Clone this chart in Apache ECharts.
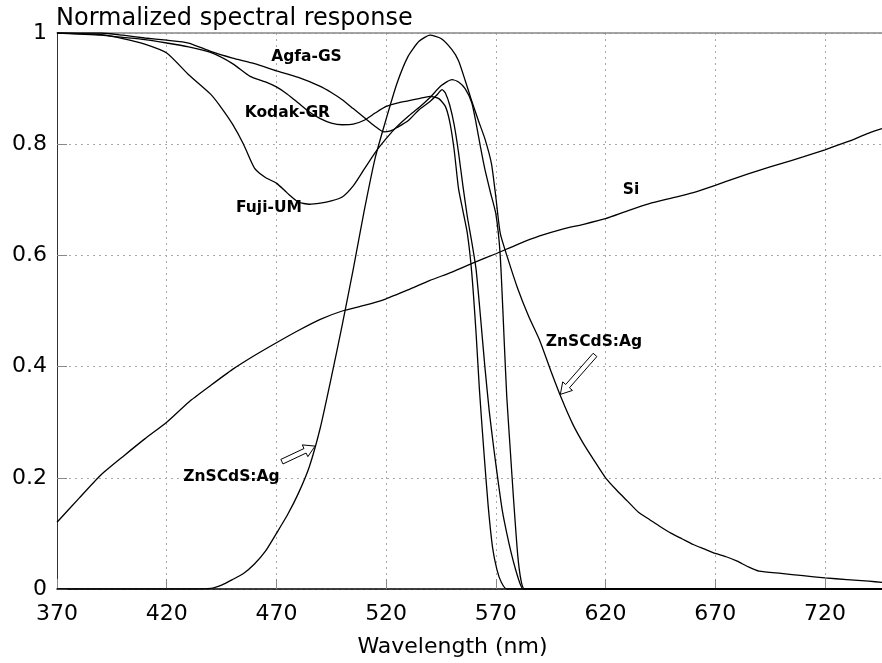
<!DOCTYPE html>
<html>
<head>
<meta charset="utf-8">
<script src="https://cdn.jsdelivr.net/npm/echarts@6/dist/echarts.min.js"></script>
<style>html,body{margin:0;padding:0;background:#fff;}#c{width:882px;height:663px;}</style>
</head>
<body>
<div id="c"></div>
<script>
// ---- data ----
const xTicks = [370, 420, 470, 520, 570, 620, 670, 720];
const yTicks = [0, 0.2, 0.4, 0.6, 0.8, 1];

const siNm  = [370,380,390,400,410,420,430,440,450,460,470,480,490,500,510,520,530,540,550,560,570,580,590,600,610,620,630,640,650,660,670,680,690,700,710,720,730,740,746];
const siVal = [0.12,0.163,0.205,0.238,0.27,0.30,0.336,0.366,0.395,0.42,0.443,0.465,0.485,0.50,0.51,0.522,0.538,0.555,0.57,0.587,0.603,0.62,0.635,0.647,0.656,0.666,0.68,0.693,0.703,0.713,0.726,0.74,0.753,0.765,0.777,0.79,0.804,0.82,0.828];

const znNm  = [370,400,430,440,445,450,455,460,465,470,475,480,485,490,495,500,505,510,515,520,525,530,535,540,545,550,553,556,559,562,565,568,570,572,575,580,585,590,595,600,605,610,615,620,625,630,635,640,645,650,655,660,665,670,675,680,685,690,700,710,720,730,740,746];
const znVal = [0,0,0,0.001,0.007,0.017,0.028,0.045,0.068,0.10,0.133,0.172,0.22,0.29,0.38,0.475,0.575,0.68,0.775,0.845,0.91,0.958,0.985,0.996,0.99,0.97,0.95,0.915,0.878,0.843,0.81,0.765,0.705,0.64,0.60,0.54,0.49,0.447,0.393,0.342,0.297,0.261,0.23,0.20,0.178,0.158,0.138,0.125,0.112,0.10,0.09,0.08,0.072,0.064,0.058,0.05,0.04,0.032,0.028,0.024,0.02,0.017,0.014,0.012];

const fujiNm  = [370,380,390,400,410,420,430,440,445,450,455,460,465,470,475,480,485,490,495,500,505,510,515,520,525,530,535,540,545,550,553,556,559,561,563,565,567.5,570,572,574,575,576.5,578,580,581.5,583,600,746];
const fujiVal = [1.0,0.999,0.997,0.99,0.98,0.964,0.925,0.89,0.865,0.836,0.80,0.757,0.74,0.73,0.712,0.696,0.692,0.694,0.698,0.705,0.725,0.755,0.785,0.81,0.832,0.85,0.866,0.884,0.905,0.916,0.912,0.90,0.875,0.838,0.795,0.755,0.714,0.675,0.60,0.43,0.345,0.255,0.166,0.06,0.015,0,0,0];

const agfaNm  = [370,380,390,400,410,420,430,440,450,460,470,480,490,495,500,505,510,515,519,522,525,530,535,540,543,545.5,547,549,551,553,555,557,559,561,563,565,567,569,571,573,575,577,579,581,582.5,600,746];
const agfaVal = [1.0,1.0,1.0,0.996,0.991,0.987,0.982,0.967,0.955,0.945,0.932,0.92,0.904,0.893,0.88,0.864,0.848,0.832,0.822,0.824,0.83,0.842,0.862,0.877,0.888,0.898,0.892,0.87,0.835,0.785,0.725,0.67,0.625,0.575,0.49,0.40,0.32,0.255,0.195,0.14,0.10,0.065,0.035,0.01,0,0,0];

const kodakNm  = [370,380,390,400,410,420,430,440,450,458,465,470,475,480,485,490,495,500,505,510,515,520,525,530,535,540,544,547,549,551,553,555,557,559,561,562.5,564.5,566.5,568.5,570.5,572.5,575,600,746];
const kodakVal = [1.0,0.998,0.996,0.992,0.988,0.982,0.975,0.965,0.945,0.922,0.912,0.903,0.89,0.874,0.858,0.846,0.838,0.835,0.836,0.843,0.856,0.868,0.874,0.878,0.882,0.886,0.882,0.868,0.84,0.79,0.72,0.68,0.64,0.57,0.46,0.36,0.25,0.15,0.075,0.035,0.012,0,0,0];

// annotation anchors in data units [nm, response]
const labels = [
  {text:'Agfa-GS',   at:[483.7,0.957]},
  {text:'Kodak-GR',  at:[475.0,0.856]},
  {text:'Fuji-UM',   at:[466.6,0.686]},
  {text:'Si',        at:[631.6,0.718]},
  {text:'ZnSCdS:Ag', at:[614.7,0.444]},
  {text:'ZnSCdS:Ag', at:[449.5,0.202]}
];
const arrows = [
  {tail:[615.2,0.421], tip:[599.4,0.35]},
  {tail:[472.5,0.229], tip:[487.6,0.257]}
];

// ---- chart ----
const pairs = (xs, ys) => xs.map((x, i) => [x, ys[i]]);
const lineSeries = (name, xs, ys) => ({
  name, type:'line', data:pairs(xs, ys), showSymbol:false, symbol:'none',
  smooth:0.2,
  lineStyle:{color:'#000', width:1.3}, z:3
});
const grid = {type:[2,4], color:'#aaa', width:1};

const chart = echarts.init(document.getElementById('c'), null, {renderer:'canvas'});
chart.setOption({
  animation:false,
  backgroundColor:'#fff',
  textStyle:{fontFamily:'DejaVu Sans'},
  title:{text:'Normalized spectral response', left:51, top:2,
    textStyle:{fontSize:24, fontWeight:'normal', color:'#000', fontFamily:'DejaVu Sans'}},
  grid:{left:57, right:0, top:33, bottom:70},
  xAxis:[{
    type:'value', min:xTicks[0], max:746, interval:xTicks[1]-xTicks[0],
    name:'Wavelength (nm)', nameLocation:'middle', nameGap:47,
    nameTextStyle:{fontSize:22, color:'#000', fontFamily:'DejaVu Sans', padding:[0,34,0,0]},
    axisLine:{show:true, lineStyle:{color:'#000', width:1.5}},
    axisTick:{show:true, inside:true, length:10, lineStyle:{color:'#888'}},
    axisLabel:{fontSize:22, color:'#000', margin:14, showMaxLabel:false, fontFamily:'DejaVu Sans'},
    splitLine:{show:true, lineStyle:grid}
  },{
    type:'value', position:'top', min:xTicks[0], max:746,
    axisLine:{show:true, lineStyle:{color:'#888', width:1.5}},
    axisTick:{show:false}, axisLabel:{show:false}, splitLine:{show:false}
  }],
  yAxis:{
    type:'value', min:yTicks[0], max:yTicks[yTicks.length-1], interval:yTicks[1]-yTicks[0],
    axisLine:{show:true, lineStyle:{color:'#333', width:1}},
    axisTick:{show:true, inside:true, length:10, lineStyle:{color:'#888'}},
    axisLabel:{fontSize:22, color:'#000', margin:10, fontFamily:'DejaVu Sans'},
    splitLine:{show:true, lineStyle:grid}
  },
  series:[
    lineSeries('Si', siNm, siVal),
    lineSeries('ZnSCdS:Ag', znNm, znVal),
    lineSeries('Fuji-UM', fujiNm, fujiVal),
    lineSeries('Agfa-GS', agfaNm, agfaVal),
    lineSeries('Kodak-GR', kodakNm, kodakVal)
  ]
});

// annotations placed through the axes' scales
const px = p => chart.convertToPixel({gridIndex:0}, p);
const graphics = labels.map(l => {
  const p = px(l.at);
  return {type:'text', x:p[0], y:p[1], z:10,
    style:{text:l.text, fill:'#000', font:'bold 15.5px "DejaVu Sans"', align:'center', verticalAlign:'middle'}};
});
arrows.forEach(a => {
  const t = px(a.tail), h = px(a.tip);
  const dx = h[0]-t[0], dy = h[1]-t[1], L = Math.hypot(dx, dy);
  const ux = dx/L, uy = dy/L, nx = -uy, ny = ux;
  const w = 2.5, hw = 6.5, hl = 11;
  const bx = h[0]-ux*hl, by = h[1]-uy*hl;
  const pts = [
    [t[0]+nx*w, t[1]+ny*w], [bx+nx*w, by+ny*w], [bx+nx*hw, by+ny*hw], [h[0], h[1]],
    [bx-nx*hw, by-ny*hw], [bx-nx*w, by-ny*w], [t[0]-nx*w, t[1]-ny*w]
  ];
  graphics.push({type:'polygon', z:10, shape:{points:pts}, style:{fill:'#fff', stroke:'#000', lineWidth:1}});
});
chart.setOption({graphic:graphics});
</script>
</body>
</html>
